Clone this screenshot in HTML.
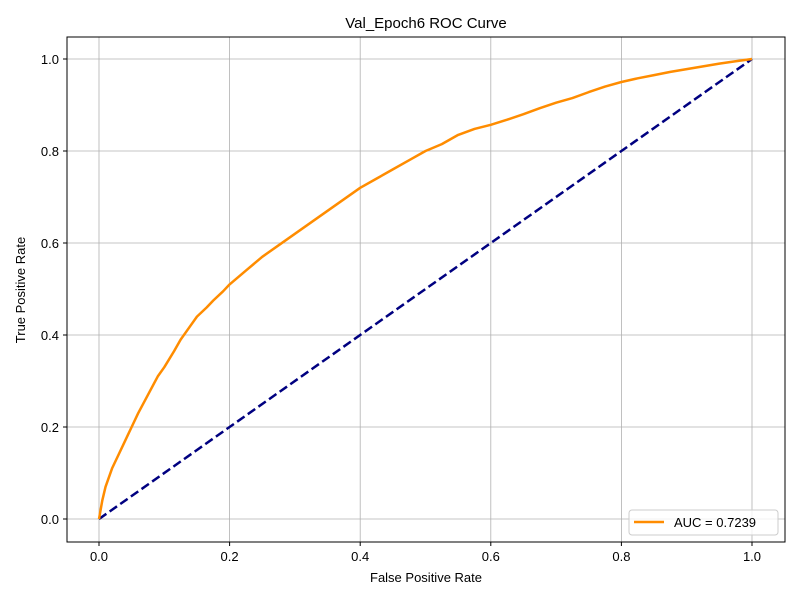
<!DOCTYPE html>
<html><head><meta charset="utf-8"><style>
body{margin:0;background:#fff}
text{font-family:"Liberation Sans","DejaVu Sans",sans-serif;fill:#000}
</style></head><body>
<svg id="chart" width="800" height="600">
<rect width="800" height="600" fill="#fff"/>
<text x="426" y="28" font-size="15" text-anchor="middle">Val_Epoch6 ROC Curve</text>
<g id="grid"></g>
<g id="marks"></g>
<rect x="67" y="37" width="718" height="505" fill="none" stroke="#000" stroke-width="1"/>
<g id="ticks"></g>
<text x="426" y="582" font-size="13" text-anchor="middle">False Positive Rate</text>
<text transform="translate(25,290) rotate(-90)" font-size="13" text-anchor="middle">True Positive Rate</text>
<g>
<rect x="629" y="510" width="149" height="25" rx="3" fill="#fff" fill-opacity="0.8" stroke="#ccc"/>
<line x1="634" y1="522" x2="664" y2="522" stroke="#ff8c00" stroke-width="2.5"/>
<text x="674" y="527" font-size="13">AUC = 0.7239</text>
</g>
</svg>
<script>
const fpr=[0,0.005,0.01,0.02,0.03,0.04,0.05,0.06,0.075,0.09,0.1,0.115,0.125,0.14,0.15,0.165,0.175,0.19,0.2,0.225,0.25,0.275,0.3,0.325,0.35,0.375,0.4,0.425,0.45,0.475,0.5,0.525,0.55,0.575,0.6,0.625,0.65,0.675,0.7,0.725,0.75,0.775,0.8,0.825,0.85,0.875,0.9,0.925,0.95,0.975,1];
const tpr=[0,0.04,0.07,0.11,0.14,0.17,0.2,0.23,0.27,0.31,0.33,0.365,0.39,0.42,0.44,0.46,0.475,0.495,0.51,0.54,0.57,0.595,0.62,0.645,0.67,0.695,0.72,0.74,0.76,0.78,0.8,0.815,0.835,0.848,0.857,0.868,0.88,0.893,0.905,0.915,0.928,0.94,0.95,0.958,0.965,0.972,0.978,0.984,0.99,0.995,1];
const xTicks=[0,0.2,0.4,0.6,0.8,1.0];
const yTicks=[0,0.2,0.4,0.6,0.8,1.0];
const X=v=>99+v*653, Y=v=>519-v*460;
const ns="http://www.w3.org/2000/svg";
const mk=(p,t,a)=>{const e=document.createElementNS(ns,t);for(const k in a)e.setAttribute(k,a[k]);document.getElementById(p).appendChild(e);return e;};
xTicks.forEach(t=>{
 const g=mk('grid','line',{x1:X(t),x2:X(t),y1:37,y2:542,stroke:'#b0b0b0','stroke-width':0.8});
 
 
 mk('ticks','line',{x1:X(t),x2:X(t),y1:542,y2:546,stroke:'#000'});
 const l=mk('ticks','text',{x:X(t),y:561,'font-size':13,'text-anchor':'middle'});
 l.textContent=t.toFixed(1);
 
 
});
yTicks.forEach(t=>{
 const g=mk('grid','line',{x1:67,x2:785,y1:Y(t),y2:Y(t),stroke:'#b0b0b0','stroke-width':0.8});
 
 
 mk('ticks','line',{x1:63,x2:67,y1:Y(t),y2:Y(t),stroke:'#000'});
 const l=mk('ticks','text',{x:59,y:Y(t)+5,'font-size':13,'text-anchor':'end'});
 l.textContent=t.toFixed(1);
 
 
});
const d=mk('marks','line',{x1:X(0),y1:Y(0),x2:X(1),y2:Y(1),stroke:'#000080','stroke-width':2.5,'stroke-dasharray':'9,4'});


const c=mk('marks','polyline',{points:fpr.map((v,i)=>X(v)+','+Y(tpr[i])).join(' '),fill:'none',stroke:'#ff8c00','stroke-width':2.5,'stroke-linejoin':'round'});


</script>
</body></html>
